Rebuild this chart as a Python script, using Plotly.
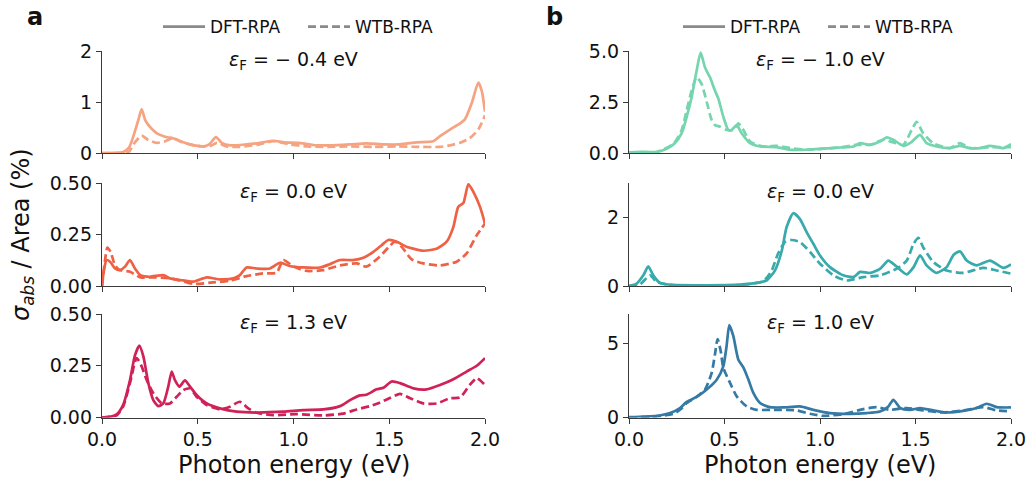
import plotly.graph_objects as go

# ---------------- data (photon energy in eV, sigma_abs/Area in %) ----------------
# Panel a, eF = -0.4 eV
a1_dft_x = [0.0, 0.11, 0.14, 0.164, 0.19, 0.207, 0.225, 0.242, 0.285, 0.34, 0.37, 0.41, 0.46, 0.53, 0.56, 0.595, 0.625, 0.67, 0.755, 0.825, 0.895, 0.95, 1.03, 1.12, 1.19, 1.295, 1.38, 1.47, 1.556, 1.643, 1.73, 1.765, 1.817, 1.87, 1.895, 1.93, 1.965, 1.983, 2.0]
a1_dft_y = [0.0, 0.02, 0.1, 0.33, 0.65, 0.86, 0.65, 0.55, 0.39, 0.31, 0.29, 0.23, 0.17, 0.13, 0.17, 0.31, 0.2, 0.15, 0.17, 0.2, 0.24, 0.21, 0.2, 0.15, 0.15, 0.17, 0.19, 0.17, 0.17, 0.21, 0.23, 0.33, 0.46, 0.58, 0.66, 0.97, 1.38, 1.22, 0.81]
a1_wtb_x = [0.0, 0.14, 0.164, 0.207, 0.24, 0.285, 0.33, 0.37, 0.425, 0.48, 0.56, 0.6, 0.65, 0.72, 0.81, 0.895, 0.98, 1.07, 1.155, 1.295, 1.42, 1.54, 1.643, 1.765, 1.817, 1.87, 1.92, 1.965, 2.0]
a1_wtb_y = [0.0, 0.02, 0.17, 0.34, 0.26, 0.2, 0.23, 0.29, 0.2, 0.15, 0.13, 0.2, 0.13, 0.12, 0.16, 0.23, 0.17, 0.13, 0.12, 0.13, 0.12, 0.13, 0.12, 0.12, 0.15, 0.2, 0.29, 0.46, 0.74]

# Panel a, eF = 0.0 eV
a2_dft_x = [0.0, 0.01, 0.024, 0.042, 0.068, 0.094, 0.12, 0.146, 0.172, 0.2, 0.25, 0.32, 0.355, 0.41, 0.477, 0.547, 0.616, 0.686, 0.72, 0.755, 0.808, 0.877, 0.93, 0.98, 1.05, 1.14, 1.19, 1.243, 1.31, 1.365, 1.417, 1.46, 1.495, 1.54, 1.59, 1.68, 1.75, 1.8, 1.835, 1.86, 1.887, 1.913, 1.94, 1.974, 2.0]
a2_dft_y = [0.0, 0.077, 0.126, 0.118, 0.085, 0.077, 0.094, 0.126, 0.085, 0.053, 0.045, 0.053, 0.037, 0.029, 0.021, 0.042, 0.032, 0.037, 0.053, 0.09, 0.085, 0.085, 0.113, 0.097, 0.09, 0.09, 0.106, 0.126, 0.126, 0.137, 0.166, 0.198, 0.223, 0.215, 0.19, 0.171, 0.182, 0.215, 0.287, 0.384, 0.403, 0.494, 0.456, 0.384, 0.303]
a2_wtb_x = [0.0, 0.016, 0.028, 0.045, 0.068, 0.094, 0.146, 0.2, 0.285, 0.355, 0.41, 0.477, 0.564, 0.668, 0.755, 0.84, 0.912, 0.947, 1.0, 1.07, 1.155, 1.243, 1.33, 1.38, 1.45, 1.495, 1.53, 1.565, 1.617, 1.678, 1.765, 1.852, 1.904, 1.957, 2.0]
a2_wtb_y = [0.0, 0.126, 0.187, 0.166, 0.1, 0.077, 0.069, 0.042, 0.042, 0.037, 0.026, 0.01, 0.016, 0.026, 0.048, 0.061, 0.065, 0.126, 0.094, 0.073, 0.077, 0.1, 0.11, 0.094, 0.142, 0.187, 0.215, 0.19, 0.129, 0.11, 0.1, 0.118, 0.158, 0.247, 0.303]

# Panel a, eF = 1.3 eV
a3_dft_x = [0.0, 0.042, 0.077, 0.11, 0.146, 0.172, 0.195, 0.216, 0.242, 0.268, 0.294, 0.32, 0.346, 0.364, 0.381, 0.404, 0.433, 0.46, 0.494, 0.547, 0.616, 0.703, 0.808, 0.947, 1.05, 1.156, 1.243, 1.295, 1.347, 1.38, 1.434, 1.47, 1.513, 1.556, 1.626, 1.695, 1.765, 1.835, 1.904, 1.957, 2.0]
a3_dft_y = [0.0, 0.003, 0.016, 0.06, 0.18, 0.3, 0.347, 0.295, 0.166, 0.084, 0.055, 0.068, 0.149, 0.222, 0.18, 0.149, 0.179, 0.149, 0.109, 0.068, 0.044, 0.028, 0.024, 0.028, 0.036, 0.039, 0.055, 0.084, 0.107, 0.11, 0.136, 0.144, 0.174, 0.166, 0.141, 0.136, 0.157, 0.185, 0.222, 0.25, 0.287]
a3_wtb_x = [0.0, 0.077, 0.11, 0.146, 0.181, 0.207, 0.233, 0.268, 0.312, 0.355, 0.39, 0.425, 0.46, 0.494, 0.547, 0.616, 0.668, 0.72, 0.764, 0.808, 0.895, 1.016, 1.156, 1.26, 1.33, 1.4, 1.45, 1.5, 1.556, 1.61, 1.678, 1.748, 1.817, 1.87, 1.92, 1.957, 2.0]
a3_wtb_y = [0.0, 0.011, 0.052, 0.166, 0.287, 0.247, 0.182, 0.117, 0.068, 0.068, 0.1, 0.133, 0.141, 0.1, 0.06, 0.039, 0.052, 0.076, 0.044, 0.023, 0.011, 0.016, 0.01, 0.019, 0.039, 0.055, 0.071, 0.093, 0.114, 0.093, 0.068, 0.068, 0.093, 0.097, 0.157, 0.19, 0.157]

# Panel b, eF = -1.0 eV
b1_dft_x = [0.0, 0.058, 0.145, 0.197, 0.24, 0.276, 0.302, 0.328, 0.354, 0.375, 0.398, 0.424, 0.45, 0.468, 0.494, 0.52, 0.538, 0.564, 0.59, 0.634, 0.686, 0.773, 0.843, 0.93, 1.017, 1.105, 1.175, 1.21, 1.262, 1.314, 1.35, 1.384, 1.436, 1.471, 1.524, 1.558, 1.61, 1.68, 1.733, 1.785, 1.838, 1.89, 1.96, 2.0]
b1_dft_y = [0.03, 0.06, 0.05, 0.21, 0.48, 0.97, 1.77, 2.74, 4.03, 4.92, 4.19, 3.71, 3.06, 2.66, 1.77, 1.13, 1.13, 1.37, 0.97, 0.48, 0.32, 0.29, 0.16, 0.16, 0.21, 0.27, 0.32, 0.48, 0.4, 0.56, 0.77, 0.65, 0.35, 0.48, 0.89, 0.48, 0.32, 0.24, 0.35, 0.24, 0.24, 0.35, 0.24, 0.44]
b1_wtb_x = [0.0, 0.145, 0.232, 0.276, 0.302, 0.328, 0.354, 0.38, 0.407, 0.433, 0.45, 0.476, 0.511, 0.546, 0.573, 0.599, 0.634, 0.703, 0.773, 0.843, 0.93, 1.017, 1.105, 1.19, 1.262, 1.33, 1.384, 1.436, 1.48, 1.506, 1.54, 1.593, 1.68, 1.733, 1.785, 1.89, 2.0]
b1_wtb_y = [0.02, 0.05, 0.44, 1.13, 2.1, 3.06, 3.71, 3.39, 2.5, 1.61, 1.37, 1.29, 1.13, 1.13, 1.45, 1.13, 0.56, 0.32, 0.35, 0.24, 0.16, 0.21, 0.27, 0.4, 0.4, 0.65, 0.52, 0.4, 1.13, 1.53, 0.97, 0.48, 0.24, 0.48, 0.24, 0.29, 0.29]

# Panel b, eF = 0.0 eV
b2_dft_x = [0.0, 0.04, 0.075, 0.101, 0.127, 0.162, 0.232, 0.407, 0.58, 0.668, 0.72, 0.764, 0.8, 0.825, 0.86, 0.895, 0.93, 0.965, 1.0, 1.052, 1.122, 1.175, 1.21, 1.262, 1.314, 1.358, 1.4, 1.454, 1.49, 1.524, 1.558, 1.61, 1.663, 1.7, 1.733, 1.768, 1.82, 1.89, 1.96, 2.0]
b2_dft_y = [0.0, 0.07, 0.31, 0.57, 0.31, 0.09, 0.03, 0.02, 0.04, 0.09, 0.16, 0.45, 1.03, 1.71, 2.12, 1.95, 1.57, 1.23, 0.89, 0.55, 0.31, 0.26, 0.41, 0.38, 0.5, 0.74, 0.57, 0.34, 0.55, 0.89, 0.6, 0.38, 0.55, 0.91, 1.01, 0.74, 0.6, 0.74, 0.53, 0.63]
b2_wtb_x = [0.0, 0.058, 0.11, 0.145, 0.232, 0.58, 0.703, 0.747, 0.78, 0.817, 0.85, 0.895, 0.948, 1.0, 1.07, 1.14, 1.227, 1.314, 1.4, 1.454, 1.49, 1.515, 1.54, 1.593, 1.663, 1.75, 1.855, 1.925, 2.0]
b2_wtb_y = [0.0, 0.05, 0.31, 0.12, 0.02, 0.03, 0.14, 0.45, 0.94, 1.28, 1.34, 1.28, 0.99, 0.65, 0.31, 0.16, 0.26, 0.31, 0.5, 0.74, 1.23, 1.4, 1.13, 0.7, 0.45, 0.38, 0.53, 0.45, 0.36]

# Panel b, eF = 1.0 eV
b3_dft_x = [0.0, 0.145, 0.215, 0.267, 0.302, 0.354, 0.407, 0.46, 0.494, 0.511, 0.525, 0.546, 0.572, 0.6, 0.625, 0.651, 0.686, 0.738, 0.808, 0.895, 0.965, 1.052, 1.157, 1.244, 1.314, 1.358, 1.384, 1.42, 1.471, 1.524, 1.593, 1.663, 1.75, 1.82, 1.873, 1.925, 2.0]
b3_dft_y = [0.02, 0.11, 0.3, 0.64, 1.05, 1.39, 1.89, 2.57, 3.48, 4.84, 6.25, 5.52, 3.93, 3.36, 2.57, 1.66, 0.98, 0.7, 0.68, 0.75, 0.52, 0.3, 0.25, 0.3, 0.41, 0.75, 1.2, 0.64, 0.52, 0.64, 0.48, 0.34, 0.45, 0.64, 0.93, 0.7, 0.68]
b3_wtb_x = [0.0, 0.145, 0.232, 0.267, 0.302, 0.354, 0.398, 0.433, 0.45, 0.464, 0.48, 0.494, 0.529, 0.564, 0.616, 0.668, 0.756, 0.878, 0.948, 1.017, 1.122, 1.227, 1.297, 1.366, 1.454, 1.54, 1.646, 1.75, 1.855, 1.925, 2.0]
b3_wtb_y = [0.0, 0.07, 0.25, 0.52, 0.98, 1.39, 1.89, 3.02, 4.27, 5.3, 4.5, 3.36, 2.34, 1.43, 0.75, 0.52, 0.52, 0.48, 0.25, 0.11, 0.23, 0.57, 0.7, 0.52, 0.64, 0.48, 0.34, 0.48, 0.7, 0.48, 0.41]

panel_labels = ["−0.4", "0.0", "1.3", "−1.0", "0.0", "1.0"]
series_names = ["DFT-RPA", "WTB-RPA"]
x_ticks = [0.0, 0.5, 1.0, 1.5, 2.0]
x_ticktext = ["0.0", "0.5", "1.0", "1.5", "2.0"]
y_ranges = [[0, 2], [0, 0.5], [0, 0.5], [0, 5], [0, 3], [0, 7]]
y_ticks = [[0, 1, 2], [0, 0.25, 0.5], [0, 0.25, 0.5], [0, 2.5, 5], [0, 2], [0, 5]]
y_ticktext = [["0", "1", "2"], ["0.00", "0.25", "0.50"], ["0.00", "0.25", "0.50"],
              ["0.0", "2.5", "5.0"], ["0", "2"], ["0", "5"]]
colors = ["#F5A381", "#EF6144", "#D02258", "#75D5AE", "#38AAAB", "#3579A5"]

panels = [
    (a1_dft_x, a1_dft_y, a1_wtb_x, a1_wtb_y),
    (a2_dft_x, a2_dft_y, a2_wtb_x, a2_wtb_y),
    (a3_dft_x, a3_dft_y, a3_wtb_x, a3_wtb_y),
    (b1_dft_x, b1_dft_y, b1_wtb_x, b1_wtb_y),
    (b2_dft_x, b2_dft_y, b2_wtb_x, b2_wtb_y),
    (b3_dft_x, b3_dft_y, b3_wtb_x, b3_wtb_y),
]

# ---------------- layout geometry ----------------
W, H = 1032, 485
xdom_L = [102 / W, 485 / W]
xdom_R = [629 / W, 1011 / W]
row_px = [(51, 153), (183, 286), (314, 417.5)]
ydoms = [[1 - b / H, 1 - t / H] for (t, b) in row_px]

FONT = "DejaVu Sans"
AX = "#3a3a3a"
DASH = "8px,4px"

fig = go.Figure()
layout = dict(
    template="none",
    width=W, height=H,
    margin=dict(l=0, r=0, t=0, b=0, pad=0, autoexpand=False),
    paper_bgcolor="white", plot_bgcolor="white",
    font=dict(family=FONT, size=19, color="#111"),
    showlegend=True,
)

annotations = []
for i, (dx, dy, wx, wy) in enumerate(panels):
    n = i + 1
    xa = "x" if n == 1 else f"x{n}"
    ya = "y" if n == 1 else f"y{n}"
    col = 0 if i < 3 else 1
    row = i % 3
    fig.add_trace(go.Scatter(x=dx, y=dy, mode="lines", xaxis=xa, yaxis=ya,
                             line=dict(color=colors[i], width=2.7, shape="spline", smoothing=0.6),
                             showlegend=False, hoverinfo="skip"))
    fig.add_trace(go.Scatter(x=wx, y=wy, mode="lines", xaxis=xa, yaxis=ya,
                             line=dict(color=colors[i], width=2.7, dash=DASH, shape="spline", smoothing=0.6),
                             showlegend=False, hoverinfo="skip"))
    xkey = "xaxis" if n == 1 else f"xaxis{n}"
    ykey = "yaxis" if n == 1 else f"yaxis{n}"
    layout[xkey] = dict(
        domain=xdom_L if col == 0 else xdom_R, anchor=ya, range=[0, 2],
        automargin=False,
        showline=True, linecolor=AX, linewidth=1.3, mirror=False,
        ticks="outside", ticklen=5, tickwidth=1.2, tickcolor=AX,
        tickvals=x_ticks, ticktext=x_ticktext, showticklabels=(row == 2),
        showgrid=False, zeroline=False, tickfont=dict(size=19, family=FONT, color="#111"),
    )
    layout[ykey] = dict(
        domain=ydoms[row], anchor=xa, range=y_ranges[i],
        automargin=False,
        showline=True, linecolor=AX, linewidth=1.3, mirror=False,
        ticks="outside", ticklen=5, tickwidth=1.2, tickcolor=AX,
        tickvals=y_ticks[i], ticktext=y_ticktext[i],
        showgrid=False, zeroline=False, tickfont=dict(size=19, family=FONT, color="#111"),
    )
    annotations.append(dict(
        text=f"<i>ε</i><sub>F</sub> = {panel_labels[i].replace('−', '− ')} eV",
        xref=f"{xa} domain", yref=f"{ya} domain", x=0.5, y=0.91,
        xanchor="center", yanchor="middle", showarrow=False,
        font=dict(size=19, family=FONT, color="#111"),
    ))

# legend entries (gray key lines), one legend per column
for leg in ["legend", "legend2"]:
    fig.add_trace(go.Scatter(x=[None], y=[None], mode="lines", name=series_names[0],
                             line=dict(color="#8a8a8a", width=2.7), legend=leg, hoverinfo="skip"))
    fig.add_trace(go.Scatter(x=[None], y=[None], mode="lines", name=series_names[1],
                             line=dict(color="#8a8a8a", width=2.7, dash=DASH), legend=leg, hoverinfo="skip"))

leg_common = dict(orientation="h", yanchor="middle", xanchor="left",
                  font=dict(size=17, family=FONT, color="#111"),
                  bgcolor="rgba(0,0,0,0)", entrywidth=88, itemwidth=42)
layout["legend"] = dict(x=158 / W, y=1 - 27 / H, **leg_common)
layout["legend2"] = dict(x=678 / W, y=1 - 27 / H, **leg_common)

# x-axis titles
for xc in [(102 + 485) / 2, (629 + 1011) / 2]:
    annotations.append(dict(text="Photon energy (eV)", xref="paper", yref="paper",
                            x=xc / W, y=1 - 465 / H, xanchor="center", yanchor="middle",
                            showarrow=False, font=dict(size=24, family=FONT, color="#111")))
# y-axis title
annotations.append(dict(text="<i>σ<sub>abs</sub></i> / Area (%)", xref="paper", yref="paper",
                        x=22 / W, y=1 - 235 / H, xanchor="center", yanchor="middle", textangle=-90,
                        showarrow=False, font=dict(size=24, family=FONT, color="#111")))
# panel letters
for letter, xp in [("a", 35), ("b", 554)]:
    annotations.append(dict(text=f"<b>{letter}</b>", xref="paper", yref="paper",
                            x=xp / W, y=1 - 17 / H, xanchor="center", yanchor="middle",
                            showarrow=False, font=dict(size=24, family=FONT, color="#111")))

layout["annotations"] = annotations
fig.update_layout(**layout)
# remove the default page margin so the figure sits at the window's top-left corner
fig.write_html("out.html", config={"displayModeBar": False},
               post_script="document.body.style.margin='0';")
